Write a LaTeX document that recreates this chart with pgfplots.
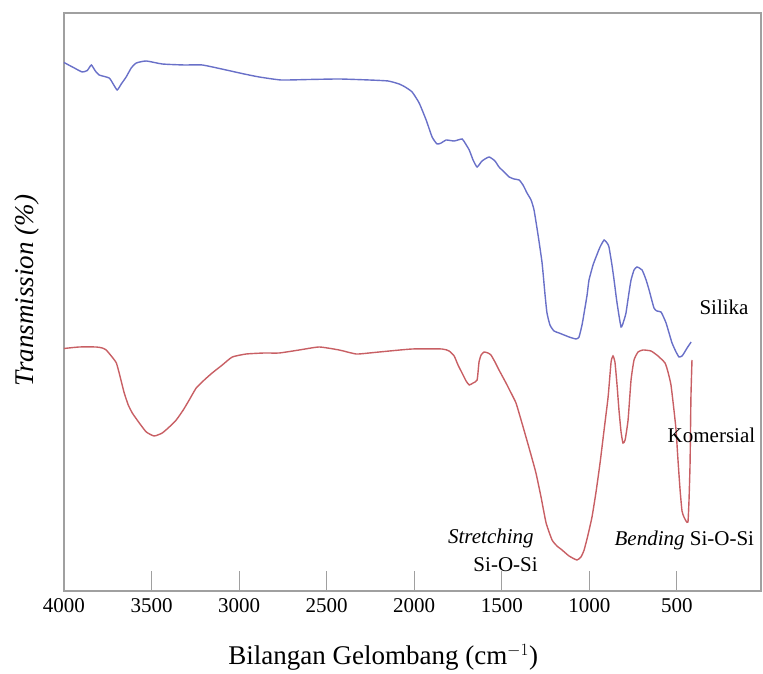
\documentclass[border=0pt]{standalone}
\usepackage{fontspec}
\setmainfont{Liberation Serif}
\usepackage{pgfplots}
\pgfplotsset{compat=1.18}
\definecolor{silblue}{RGB}{105,112,200}
\definecolor{komred}{RGB}{200,95,100}
\definecolor{axgray}{RGB}{160,160,160}
\begin{document}
\begin{tikzpicture}
\begin{axis}[
  at={(0,0)}, anchor=south west,
  scale only axis, width=697pt, height=578pt,
  x dir=reverse, xmin=20, xmax=4000, ymin=0, ymax=578,
  axis line style={axgray, line width=1.3pt},
  xtick={4000,3500,3000,2500,2000,1500,1000,500},
  xticklabels={4000,3500,3000,2500,2000,1500,1000,500},
  xtick pos=lower, xtick align=inside, major tick length=20pt,
  tick style={axgray, line width=1pt},
  ytick=\empty,
  xticklabel style={font=\fontsize{21}{24}\selectfont, yshift=-4pt},
  xlabel={Bilangan Gelombang (cm$^{-1}$)},
  ylabel={\textit{Transmission (\%)}},
  every axis x label/.style={at={(axis description cs:0.458,0)}, anchor=center, yshift=-66pt, font=\fontsize{27}{30}\selectfont},
  every axis y label/.style={at={([xshift=-37pt]axis description cs:0,0.52)}, anchor=center, rotate=90, font=\fontsize{27}{30}\selectfont},
  clip=false,
]
% Silika (blue)
\addplot[silblue, line width=1.4pt, smooth, tension=0.3] coordinates {
(4000,528.5)(3941,523)(3896,519)(3867,520.5)(3844,526)(3821,520)(3799,516)(3742,513)(3719,507)(3696,501)(3673,507)(3645,514)(3616,523)(3587,528)(3530,530)(3439,527)(3313,526)(3210,526)(3074,521)(2971,517)(2885,514)(2760,511)(2600,511.5)(2429,512)(2257,511)(2149,510)(2086,507)(2052,504)(2012,499)(1972,488)(1932,471)(1898,454)(1870,447)(1846,448)(1818,451)(1772,450)(1727,452)(1710,448)(1686,441)(1664,431)(1641,424)(1613,430)(1573,434)(1539,430)(1516,424)(1481,418)(1458,414)(1430,412)(1401,411)(1379,406)(1356,398)(1333,391)(1316,381)(1293,356)(1270,328)(1253,296)(1242,278)(1225,266)(1202,260)(1173,258)(1116,254)(1076,252)(1059,254)(1042,266)(1030,278)(1013,296)(1002,311)(979,326)(962,334)(939,344)(916,351)(899,348)(888,344)(871,326)(859,311)(842,288)(819,264)(802,271)(791,278)(774,298)(762,311)(745,321)(728,324)(699,321)(676,311)(659,301)(631,283)(614,280)(591,279)(574,273)(562,268)(545,258)(528,248)(505,239)(488,234)(471,235)(459,238)(442,243)(419,249)
};
% Komersial (red)
\addplot[komred, line width=1.4pt, smooth, tension=0.3] coordinates {
(4000,242.5)(3913,244)(3816,244)(3781,243)(3759,241)(3730,235)(3701,228)(3679,214)(3656,198)(3633,186)(3610,178)(3570,168)(3530,159)(3485,155)(3439,158)(3399,164)(3359,171)(3319,181)(3285,191)(3245,203)(3199,211)(3154,218)(3096,226)(3039,234)(2959,237)(2856,238)(2771,238)(2657,241)(2543,244)(2429,241)(2332,237)(2257,238)(2200,239)(2012,242)(1841,242)(1801,240)(1772,235)(1750,226)(1727,218)(1704,210)(1686,206)(1664,208)(1641,211)(1630,229)(1618,236)(1601,239)(1579,238)(1562,236)(1539,229)(1516,221)(1476,208)(1447,198)(1419,188)(1390,171)(1362,154)(1333,136)(1305,118)(1276,94)(1247,68)(1213,51)(1185,45)(1156,41)(1116,35)(1071,31)(1048,34)(1030,41)(1008,56)(985,74)(962,99)(939,128)(916,161)(893,194)(876,229)(865,235)(854,229)(842,206)(831,181)(819,159)(808,148)(796,151)(779,171)(762,211)(745,231)(722,239)(694,241)(648,240)(608,235)(568,228)(551,219)(534,206)(517,181)(505,161)(494,131)(482,101)(471,80)(460,74)(448,70)(437,69)(431,91)(425,128)(420,194)(414,231)
};
\node[anchor=west, font=\fontsize{21}{24}\selectfont] at (axis cs:391,284) {Silika};
\node[anchor=west, font=\fontsize{21}{24}\selectfont] at (axis cs:573,156) {Komersial};
\node[anchor=east, font=\fontsize{21}{24}\selectfont\itshape] at (axis cs:1298,53) {Stretching};
\node[anchor=east, font=\fontsize{21}{24}\selectfont] at (axis cs:1275,26) {Si-O-Si};
\node[anchor=west, font=\fontsize{21}{24}\selectfont] at (axis cs:876,51) {\textit{Bending} Si-O-Si};
\end{axis}
\useasboundingbox (-64pt,-82pt) rectangle (699pt,591pt);
\end{tikzpicture}
\end{document}
